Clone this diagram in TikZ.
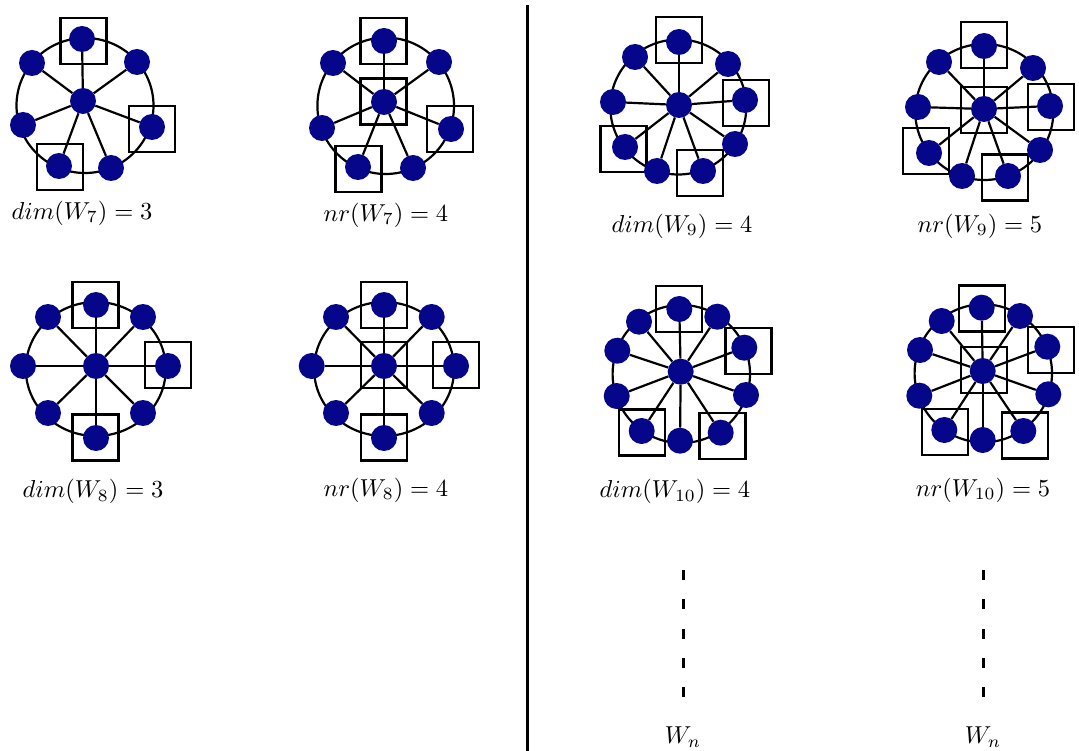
\documentclass[tikz,border=0pt]{standalone}
\usepackage{graphicx}
\pgfdeclarelayer{bg}
\pgfdeclarelayer{paper}
\pgfsetlayers{paper,bg,main}
\definecolor{dotblue}{RGB}{6,6,138}
\newcommand{\biglab}[1]{\scalebox{2.45}{#1}}
\tikzset{
  dot/.style={circle, fill=dotblue, minimum size=26pt, inner sep=0pt},
  sq/.style={draw, line width=2.2pt, minimum size=46pt, inner sep=0pt},
  spoke/.style={line width=2.2pt},
  rim/.style={line width=2.2pt},
  lab/.style={inner sep=0pt},
  dashline/.style={line width=2.8pt, dash pattern=on 10pt off 19.3pt},
}
\begin{document}
\begin{tikzpicture}[x=1pt,y=-1pt]
\useasboundingbox (0,0) rectangle (1079,751);
\begin{pgfonlayer}{paper}
\fill[white] (0,0) rectangle (1079,751);
\end{pgfonlayer}

% ---------- Panel a: dim(W7)
\node[dot] (a0) at (83,101) {};
\foreach \i/\x/\y in {1/82/39, 2/137/62, 3/152/127, 4/111/168, 5/59/166, 6/23/125, 7/32/63}
  \node[dot] (a\i) at (\x,\y) {};
% ---------- Panel b: nr(W7)
\node[dot] (b0) at (384,102) {};
\foreach \i/\x/\y in {1/384/41, 2/439/62, 3/451/129, 4/413/168, 5/358/167, 6/322/128, 7/333/63}
  \node[dot] (b\i) at (\x,\y) {};
% ---------- Panel c: dim(W9)
\node[dot] (c0) at (679,105) {};
\foreach \i/\x/\y in {1/679/42, 2/728/64, 3/745/100, 4/735/144, 5/703/171, 6/657/171, 7/625/147, 8/613/102, 9/635/57}
  \node[dot] (c\i) at (\x,\y) {};
% ---------- Panel d: nr(W9)
\node[dot] (d0) at (984,109) {};
\foreach \i/\x/\y in {1/984/46, 2/1033/68, 3/1050/106, 4/1040/150, 5/1008/176, 6/962/176, 7/929/153, 8/918/107, 9/939/62}
  \node[dot] (d\i) at (\x,\y) {};
% ---------- Panel e: dim(W8)
\node[dot] (e0) at (96,366) {};
\foreach \i/\x/\y in {1/96/305, 2/143/317, 3/168/366, 4/143/413, 5/96/438, 6/48/413, 7/23/366, 8/48/317}
  \node[dot] (e\i) at (\x,\y) {};
% ---------- Panel f: nr(W8)
\node[dot] (f0) at (384,366) {};
\foreach \i/\x/\y in {1/384/305, 2/431.7/317, 3/456/366, 4/431.7/413, 5/384/438, 6/336/413, 7/311.7/366, 8/336/317}
  \node[dot] (f\i) at (\x,\y) {};
% ---------- Panel g: dim(W10)
\node[dot] (g0) at (680.7,371.7) {};
\foreach \i/\x/\y in {1/679.3/309, 2/717.3/316.7, 3/744.3/347.7, 4/746/395, 5/720.7/432.7, 6/680/440.7, 7/641.7/431, 8/616.7/396, 9/617.3/350.7, 10/639/321.7}
  \node[dot] (g\i) at (\x,\y) {};
% ---------- Panel h: nr(W10)
\node[dot] (h0) at (982.7,371) {};
\foreach \i/\x/\y in {1/981.7/307.7, 2/1020/316, 3/1047.3/346.7, 4/1048.3/394.3, 5/1023.3/431, 6/982.7/440, 7/944.3/430, 8/919.3/395.7, 9/920/350, 10/941.7/321}
  \node[dot] (h\i) at (\x,\y) {};

\begin{pgfonlayer}{bg}
  % rims
  \draw[rim] (85,105.5) ellipse [x radius=68.5pt, y radius=67.5pt];
  \draw[rim] (385.7,105.8) ellipse [x radius=68.3pt, y radius=68.2pt];
  \draw[rim] (678.3,107) ellipse [x radius=68pt, y radius=67.5pt];
  \draw[rim] (984.3,112) ellipse [x radius=69pt, y radius=68pt];
  \draw[rim] (95.8,369) ellipse [x radius=70pt, y radius=67pt];
  \draw[rim] (384.1,369) ellipse [x radius=70pt, y radius=67pt];
  \draw[rim] (681.3,374) ellipse [x radius=68.7pt, y radius=69pt];
  \draw[rim] (983.3,373.3) ellipse [x radius=68.7pt, y radius=69pt];
  % spokes
  \foreach \p/\n in {a/7, b/7, c/9, d/9, e/8, f/8, g/10, h/10}
    \foreach \i in {1,...,\n}
      \draw[spoke] (\p0) -- (\p\i);
  % resolving-set boxes
  \node[sq] (ab1) at (83.5,40.8) {};
  \node[sq] (ab2) at (151.8,128.8) {};
  \node[sq] (ab3) at (59.7,166.8) {};
  \node[sq] (bb1) at (383.5,41.2) {};
  \node[sq] (bb2) at (383.5,101.5) {};
  \node[sq] (bb3) at (450.2,129.3) {};
  \node[sq] (bb4) at (358.5,169.3) {};
  \node[sq] (cb1) at (679,40.2) {};
  \node[sq] (cb2) at (746.3,103) {};
  \node[sq] (cb3) at (623.5,149.3) {};
  \node[sq] (cb4) at (700.2,172.7) {};
  \node[sq] (db1) at (983.7,45.3) {};
  \node[sq] (db2) at (984,110.2) {};
  \node[sq] (db3) at (1050.7,107.2) {};
  \node[sq] (db4) at (926,150.8) {};
  \node[sq] (db5) at (1005.2,177.5) {};
  \node[sq] (eb1) at (95.5,305.2) {};
  \node[sq] (eb2) at (167.8,365.2) {};
  \node[sq] (eb3) at (95.5,437.5) {};
  \node[sq] (fb1) at (383.7,305.2) {};
  \node[sq] (fb2) at (383.7,365.2) {};
  \node[sq] (fb3) at (455.8,365.2) {};
  \node[sq] (fb4) at (383.7,437.5) {};
  \node[sq] (gb1) at (678.8,309.2) {};
  \node[sq] (gb2) at (748.5,351.3) {};
  \node[sq] (gb3) at (722.5,435.8) {};
  \node[sq] (gb4) at (642.2,432.5) {};
  \node[sq] (hb1) at (981.7,308.5) {};
  \node[sq] (hb2) at (984,370.2) {};
  \node[sq] (hb3) at (1050.8,350.2) {};
  \node[sq] (hb4) at (1024.8,435.5) {};
  \node[sq] (hb5) at (944.8,431.8) {};
\end{pgfonlayer}

% labels
\node[lab] (la) at (82,213) {\biglab{$dim(W_7)=3$}};
\node[lab] (lb) at (386,215) {\biglab{$nr(W_7)=4$}};
\node[lab] (lc) at (682,226) {\biglab{$dim(W_9)=4$}};
\node[lab] (ld) at (980,226) {\biglab{$nr(W_9)=5$}};
\node[lab] (le) at (93,491.7) {\biglab{$dim(W_8)=3$}};
\node[lab] (lf) at (386,490) {\biglab{$nr(W_8)=4$}};
\node[lab] (lg) at (675,491.7) {\biglab{$dim(W_{10})=4$}};
\node[lab] (lh) at (983,490) {\biglab{$nr(W_{10})=5$}};

% separator
\coordinate (sepT) at (527.5,5);
\coordinate (sepB) at (527.5,751);
\draw[line width=2.2pt] (sepT) -- (sepB);

% dashed continuations
\coordinate (dl1) at (683.3,570);
\coordinate (dl2) at (683.3,698);
\coordinate (dr1) at (983.3,570);
\coordinate (dr2) at (983.3,698);
\draw[dashline] (dl1) -- (dl2);
\draw[dashline] (dr1) -- (dr2);
\node[lab] (wl) at (683,737) {\biglab{$W_n$}};
\node[lab] (wr) at (983,737) {\biglab{$W_n$}};
\end{tikzpicture}
\end{document}
